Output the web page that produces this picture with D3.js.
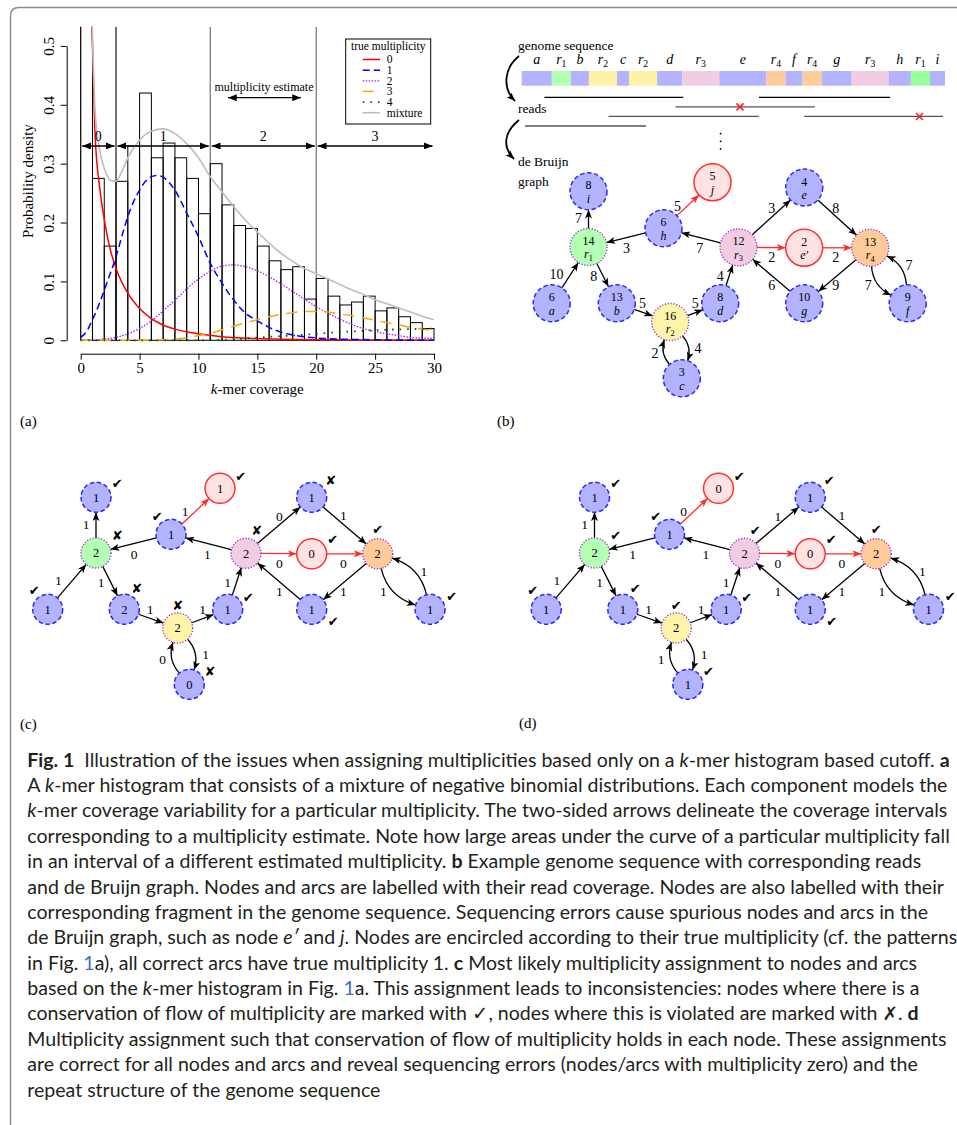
<!DOCTYPE html>
<html><head><meta charset="utf-8">
<script src="https://cdn.jsdelivr.net/npm/d3@7"></script>
<style>body{margin:0;background:#fff} svg{display:block}</style>
</head><body>
<svg id="fig" width="957" height="1125"></svg>
<script>
// ================= DATA =================
// (a) histogram
const binStarts = [0,1,2,3,4,5,6,7,8,9,10,11,12,13,14,15,16,17,18,19,20,21,22,23,24,25,26,27,28,29];
const binDensity = [0.9,0.275,0.16,0.27,0.33,0.42,0.31,0.335,0.31,0.275,0.215,0.30,0.23,0.195,0.19,0.16,0.135,0.12,0.125,0.07,0.105,0.075,0.06,0.065,0.075,0.05,0.055,0.04,0.03,0.02];
const xTicks = [0,5,10,15,20,25,30];
const yTicks = [0,0.1,0.2,0.3,0.4,0.5];
const legendLabels = ["0","1","2","3","4","mixture"];
const mult0X = [0.7,0.8,0.93,1,1.22,1.64,2,2.5,3,4,5,6,7,8,10,12,15,20,25,30];
const mult0Y = [0.66,0.6,0.54,0.5,0.35,0.255,0.205,0.155,0.122,0.08,0.054,0.037,0.026,0.019,0.011,0.006,0.003,0.001,0.0005,0];
const mult1X = [0,0.5,1,1.5,2,2.5,3,3.5,4,4.5,5,5.5,6,6.5,7,7.5,8,9,10,11,12,13,14,15,16,17,18,19,20,22,25,30];
const mult1Y = [0.005,0.015,0.035,0.058,0.085,0.113,0.142,0.177,0.21,0.236,0.255,0.27,0.278,0.28,0.277,0.268,0.255,0.216,0.176,0.131,0.097,0.068,0.046,0.033,0.022,0.014,0.009,0.006,0.004,0.002,0.001,0];
const mult2X = [0,2,3,4,5,6,7,8,9,10,11,12,13,14,15,16,17,18,19,20,21,22,23,24,25,26,27,28,29,30];
const mult2Y = [0,0.002,0.005,0.011,0.02,0.033,0.05,0.068,0.087,0.104,0.117,0.126,0.128,0.125,0.118,0.108,0.096,0.083,0.07,0.057,0.046,0.036,0.027,0.02,0.015,0.011,0.008,0.005,0.004,0.003];
const mult3X = [0,6,7,8,9,10,11,12,13,14,15,16,17,18,19,20,21,22,23,24,25,26,27,28,29,30];
const mult3Y = [0,0,0.001,0.002,0.004,0.008,0.012,0.018,0.024,0.03,0.035,0.04,0.044,0.047,0.049,0.049,0.048,0.045,0.042,0.038,0.034,0.03,0.026,0.022,0.019,0.016];
const mult4X = [0,10,12,14,16,18,20,22,24,26,28,30];
const mult4Y = [0,0,0.001,0.003,0.006,0.008,0.011,0.014,0.016,0.018,0.019,0.02];
const mixX = [0.97,1.1,1.22,1.64,2,2.5,3,3.5,4,5,6,7,8,9,10,11,12,13,14,15,16,17,18,19,20,21,22,23,24,25,26,27,28,29,30];
const mixY = [0.54,0.45,0.39,0.32,0.292,0.272,0.27,0.287,0.31,0.34,0.355,0.359,0.351,0.334,0.31,0.278,0.252,0.227,0.204,0.184,0.165,0.148,0.134,0.122,0.113,0.104,0.095,0.086,0.078,0.069,0.062,0.055,0.048,0.041,0.035];
const cutoffs = [0,3,11,20];
const estimateLabels = ["0","1","2","3"];
const estimateFrom = [0,3,11,20];
const estimateTo = [3,11,20,30];
const estimateLabelX = [1.5,7,15.5,25];

// (b) genome, reads
const segNames = ["a","r1","b","r2","c","r2","d","r3","e","r4","f","r4","g","r3","h","r1","i"];
const segLengths = [30,19,18,28,12,28,25,37,47,19,17,19,30,37,22,19,15];
const readStart = [22.6,236.6,153.3,86.6,281.6,3.3];
const readEnd = [161,367.3,292.3,236.3,420,124];
const readRow = [0,0,1,2,2,3];
const readError = [null,null,217.6,null,396.6,null];

// de Bruijn graph
const nodeIds = ["a","r1","b","r2","c","d","r3","e","r4","f","g","h","i","j","e'"];
const nodeTrueMult = [1,2,1,2,1,1,2,1,2,1,1,1,1,0,0];
const nodeCoverage = [6,14,13,16,3,8,12,4,13,9,10,6,8,5,2];
const nodeMultC = [1,2,2,2,0,1,2,1,2,1,1,1,1,1,0];
const nodeMultD = [1,2,1,2,1,1,2,1,2,1,1,1,1,0,0];
const nodeOkC = [true,false,false,false,false,true,false,false,true,true,true,true,true,true,true];
const nodeOkD = [true,true,true,true,true,true,true,true,true,true,true,true,true,true,true];
const edgeSource = ["a","r1","r1","h","r3","h","b","r2","d","r2","c","r3","e","r3","e'","g","r4","r4","f"];
const edgeTarget = ["r1","i","b","r1","h","j","r2","d","r3","c","r2","e","r4","e'","r4","r3","g","f","r4"];
const edgeCoverage = [10,7,8,3,7,5,5,5,4,4,2,3,8,2,2,6,9,7,7];
const edgeMultC = [1,1,1,0,1,1,1,1,1,1,0,0,1,0,0,1,1,1,1];
const edgeMultD = [1,1,1,1,1,0,1,1,1,1,1,1,1,0,0,1,1,1,1];

// ================= LAYOUT =================
const nodeLayout = {a:[47.7,609.3], r1:[96,553], b:[124.3,609.3], r2:[177.7,628], c:[189.3,684.3], d:[227.7,609.3],
  r3:[246,553.3], e:[311.7,497.3], r4:[377.7,553.8], f:[430,609.3], g:[311.7,609.3], h:[171,534.3],
  i:[96,497.3], j:[220,488.3], "e'":[311.7,553.8]};
const layoutOverrideB = {a:[59.2,609.3], f:[415.2,609.3], e:[311.7,493.5]};
const edgeBend = {"r2>c":30, "c>r2":30, "r4>f":-30, "f>r4":-30};
const edgeLabelOffset = {"a>r1":[-13.5,-1],"r1>i":[-10,-0.7],"r1>b":[-9,0.7],"h>r1":[0.5,10.5],"r3>h":[-1.2,10.5],
  "h>j":[-10.5,0.4],"b>r2":[-1,-9.5],"r2>d":[0,-9.5],"d>r3":[-9.2,0.7],"c>r2":[-21,3],"r2>c":[22,-2],
  "r3>e":[0.4,-9.3],"e>r4":[-1.4,-10],"r3>e'":[0.4,10],"e'>r4":[-1.4,9.5],"g>r3":[0.4,10],"r4>g":[-1.4,9.3],
  "r4>f":[-20.6,9.3],"f>r4":[20,-10]};
const markOffset = {i:[21.3,-14], j:[20.7,-11.6], h:[-13.7,-18.3], r1:[21.3,-18], r3:[10.7,-23], e:[19,-16.6],
  "e'":[21,-14], r4:[0,-24], a:[-13.4,-18.6], b:[12.4,-21], r2:[0,-22.7], d:[20.6,-12], g:[21.6,12.4],
  f:[21.7,-12.6], c:[20.7,-12.6]};

const SERIF = "'Liberation Serif','DejaVu Serif',serif";
const svg = d3.select("#fig");
svg.append("rect").attr("width",957).attr("height",1125).attr("fill","#fff");

// frame
svg.append("path").attr("d","M10.5,1125 L10.5,16 Q10.5,7.5 19,7.5 L957,7.5")
  .attr("fill","none").attr("stroke","#8a8a8a").attr("stroke-width",1.4);

// markers
const defs = svg.append("defs");
function marker(id, color, w, h){
  defs.append("marker").attr("id",id).attr("viewBox","0 0 10 8").attr("refX",10).attr("refY",4)
    .attr("markerUnits","userSpaceOnUse").attr("markerWidth",w).attr("markerHeight",h)
    .attr("orient","auto-start-reverse")
    .append("path").attr("d","M0,0 L10,4 L0,8 L2.5,4 Z").attr("fill",color);
}
marker("arrBlack","#000",9,7);
marker("arrRed","#ff2a2a",9,7);
defs.append("marker").attr("id","arrA").attr("viewBox","0 0 10 8").attr("refX",10).attr("refY",4)
  .attr("markerUnits","userSpaceOnUse").attr("markerWidth",9).attr("markerHeight",7)
  .attr("orient","auto-start-reverse")
  .append("path").attr("d","M0,0 L10,4 L0,8 Z").attr("fill","#000");

// ================= PANEL (a) =================
const x = d3.scaleLinear().domain([0,30]).range([80.7,434]);
const y = d3.scaleLinear().domain([0,0.5]).range([340.3,45.9]);
defs.append("clipPath").attr("id","plotClip").append("rect")
  .attr("x",66).attr("y",26.7).attr("width",380).attr("height",316);
const gA = svg.append("g");
const plot = gA.append("g").attr("clip-path","url(#plotClip)");

const seriesDefs = [
  {X:mult0X,Y:mult0Y,color:"#ff0000",dash:null,w:1.5},
  {X:mult1X,Y:mult1Y,color:"#0000ff",dash:"7,4",w:1.5},
  {X:mult2X,Y:mult2Y,color:"#a020f0",dash:"1.5,1.5",w:1.3},
  {X:mult3X,Y:mult3Y,color:"#ffa500",dash:"11,8",w:1.5},
  {X:mult4X,Y:mult4Y,color:"#006400",dash:"1.6,6",w:1.8},
  {X:mixX,Y:mixY,color:"#bebebe",dash:null,w:1.6}
];
const line = d3.line().x(d=>x(d[0])).y(d=>y(d[1])).curve(d3.curveMonotoneX);
plot.selectAll("line.cut").data(cutoffs).join("line")
  .attr("x1",d=>x(d)).attr("x2",d=>x(d)).attr("y1",26.7).attr("y2",y(0))
  .attr("stroke",d=>d===3?"#000":"#666").attr("stroke-width",1.1);
plot.selectAll("rect.bar").data(binStarts).join("rect")
  .attr("x",(d)=>x(d)).attr("width",(d)=>x(d+1)-x(d))
  .attr("y",(d,i)=>y(binDensity[i])).attr("height",(d,i)=>y(0)-y(binDensity[i]))
  .attr("fill","none").attr("stroke","#000").attr("stroke-width",1);
seriesDefs.forEach(s=>{
  plot.append("path").attr("d",line(s.X.map((v,i)=>[v,s.Y[i]])))
    .attr("fill","none").attr("stroke",s.color).attr("stroke-width",s.w)
    .attr("stroke-dasharray",s.dash);
});
const yAx = gA.append("g").attr("transform","translate(66.7,0)")
  .call(d3.axisLeft(y).tickValues(yTicks).tickSize(6).tickSizeOuter(0).tickFormat(d3.format(".1f")));
yAx.selectAll("text").attr("x",0).attr("y",0).attr("dy","0")
  .attr("transform","translate(-12.5,0) rotate(-90)").attr("text-anchor","middle")
  .text(d=>d===0?"0":d3.format(".1f")(d));
const xAx = gA.append("g").attr("transform","translate(0,353.7)")
  .call(d3.axisBottom(x).tickValues(xTicks).tickSize(6).tickSizeOuter(0));
[yAx,xAx].forEach(a=>{
  a.attr("font-family",SERIF).attr("font-size",15);
  a.selectAll("text").attr("fill","#000");
  a.selectAll("line,path").attr("stroke","#000");
});
gA.append("text").attr("x",257.3).attr("y",394).attr("text-anchor","middle")
  .attr("font-family",SERIF).attr("font-size",15)
  .html('<tspan font-style="italic">k</tspan>-mer coverage');
gA.append("text").attr("transform","translate(33,181) rotate(-90)").attr("text-anchor","middle")
  .attr("font-family",SERIF).attr("font-size",15).text("Probability density");
estimateLabels.forEach((lab,i)=>{
  gA.append("line").attr("x1",x(estimateFrom[i])+1.5).attr("x2",x(estimateTo[i])-1.5)
    .attr("y1",y(0.33)).attr("y2",y(0.33)).attr("stroke","#000").attr("stroke-width",1.3)
    .attr("marker-start","url(#arrA)").attr("marker-end","url(#arrA)");
  gA.append("text").attr("x",x(estimateLabelX[i])).attr("y",y(0.33)-4.5).attr("text-anchor","middle")
    .attr("font-family",SERIF).attr("font-size",14).text(lab);
});
gA.append("text").attr("x",264).attr("y",91).attr("text-anchor","middle")
  .attr("font-family",SERIF).attr("font-size",12).text("multiplicity estimate");
gA.append("line").attr("x1",228).attr("x2",301).attr("y1",97.7).attr("y2",97.7)
  .attr("stroke","#000").attr("stroke-width",1.3)
  .attr("marker-start","url(#arrA)").attr("marker-end","url(#arrA)");
const lg = gA.append("g");
lg.append("rect").attr("x",345.7).attr("y",39).attr("width",85).attr("height",85)
  .attr("fill","#fff").attr("stroke","#000").attr("stroke-width",1);
lg.append("text").attr("x",388.2).attr("y",49.8).attr("text-anchor","middle")
  .attr("font-family",SERIF).attr("font-size",11.5).text("true multiplicity");
const ly = d3.scaleLinear().domain([0,5]).range([59.5,112.7]);
legendLabels.forEach((lab,i)=>{
  const s = seriesDefs[i];
  lg.append("line").attr("x1",362.7).attr("x2",380).attr("y1",ly(i)).attr("y2",ly(i))
    .attr("stroke",s.color).attr("stroke-width",s.w).attr("stroke-dasharray",s.dash);
  lg.append("text").attr("x",386.7).attr("y",ly(i)+3.8)
    .attr("font-family",SERIF).attr("font-size",11.5).text(lab);
});
svg.append("text").attr("x",20).attr("y",426).attr("font-family",SERIF).attr("font-size",15).text("(a)");

// ================= PANEL (b) genome =================
const gx = d3.scaleLinear().domain([0,d3.sum(segLengths)]).range([521.7,945]);
const segColor = {a:"#b3b3ff",b:"#b3b3ff",c:"#b3b3ff",d:"#b3b3ff",e:"#b3b3ff",f:"#b3b3ff",g:"#b3b3ff",h:"#b3b3ff",i:"#b3b3ff",
  r1:"#b3ffb3",r2:"#fff2a6",r3:"#f0cde0",r4:"#ffcc99"};
const repColor = {r1:"#b3ffb3",r2:"#fff4aa",r3:"#f0cde0",r4:"#ffcc99"};
let acc = 0;
const segs = segNames.map((n,i)=>{const s={n,start:acc,end:acc+segLengths[i]}; acc+=segLengths[i]; return s;});
const gB = svg.append("g");
gB.selectAll("rect.seg").data(segs).join("rect")
  .attr("x",d=>gx(d.start)).attr("width",d=>gx(d.end)-gx(d.start))
  .attr("y",71).attr("height",14.7)
  .attr("fill",(d,i)=> (i===15 ? "#99ff99" : segColor[d.n]));
function labelNode(sel, name, size){
  const first = sel.append("tspan").attr("font-style","italic");
  if(name[0]==="r" && name.length>1){
    first.text("r");
    sel.append("tspan").attr("font-size",size*0.7).attr("dy",size*0.22).text(name.slice(1));
  } else if(name==="e'"){
    first.text("e′");
  } else {
    first.text(name);
  }
}
segs.forEach(s=>{
  const t = gB.append("text").attr("x",gx((s.start+s.end)/2)).attr("y",64).attr("text-anchor","middle")
    .attr("font-family",SERIF).attr("font-size",14);
  labelNode(t, s.n, 14);
});
const rowY = d3.scaleLinear().domain([0,3]).range([97.3,126]);
readStart.forEach((s,i)=>{
  const col = (readRow[i]===1||readRow[i]===2) ? "#555" : "#000";
  gB.append("line").attr("x1",gx(s)).attr("x2",gx(readEnd[i])).attr("y1",rowY(readRow[i])).attr("y2",rowY(readRow[i]))
    .attr("stroke",col).attr("stroke-width",1.2);
  if(readError[i]!==null){
    const cx=gx(readError[i]), cy=rowY(readRow[i]);
    gB.append("path").attr("d",`M${cx-3.5},${cy-3.5}L${cx+3.5},${cy+3.5}M${cx-3.5},${cy+3.5}L${cx+3.5},${cy-3.5}`)
      .attr("stroke","#ff2020").attr("stroke-width",1.5);
  }
});
[3.8,4.6,5.4].forEach(r=>gB.append("circle").attr("cx",gx(198.3)).attr("cy",rowY(r)).attr("r",0.9).attr("fill","#000"));
const labB = [["genome sequence",50],["reads",113.3],["de Bruijn",166],["graph",186]];
labB.forEach(l=>gB.append("text").attr("x",518).attr("y",l[1]).attr("font-family",SERIF).attr("font-size",13.5).text(l[0]));
gB.append("path").attr("d","M519,56 C504,68 502,88 515,101").attr("fill","none").attr("stroke","#000").attr("stroke-width",1.8)
  .attr("marker-end","url(#arrBlack)");
gB.append("path").attr("d","M519,120 C504,132 502,147 514,159").attr("fill","none").attr("stroke","#000").attr("stroke-width",1.8)
  .attr("marker-end","url(#arrBlack)");
svg.append("text").attr("x",497).attr("y",426).attr("font-family",SERIF).attr("font-size",15).text("(b)");

// ================= GRAPHS =================
function nodeFill(id, tm){
  if(tm===0) return "#ffe3e3";
  if(tm===2) return repColor[id];
  return "#b3b3ff";
}
function drawGraph(panel){
  const g = svg.append("g");
  const sx = d3.scaleLinear().domain([0,100]).range([panel.dx, panel.dx+100]);
  const sy = d3.scaleLinear().domain([0,100]).range([panel.dy, panel.dy+100]);
  const pos = {};
  nodeIds.forEach(id=>{
    const p = (panel.override && panel.override[id]) || nodeLayout[id];
    pos[id] = [sx(p[0]), sy(p[1])];
  });
  const R = panel.r;
  const tmOf = id=>nodeTrueMult[nodeIds.indexOf(id)];
  edgeSource.forEach((s,i)=>{
    const t = edgeTarget[i], key = s+">"+t;
    const u = pos[s], v = pos[t];
    const red = tmOf(s)===0 || tmOf(t)===0;
    const dx=v[0]-u[0], dy=v[1]-u[1], L=Math.hypot(dx,dy), tx=dx/L, ty=dy/L;
    const mid=[(u[0]+v[0])/2,(u[1]+v[1])/2];
    let d;
    if(edgeBend[key]){
      const b = edgeBend[key]*Math.PI/180;
      const h = Math.tan(Math.abs(b))*L/2*Math.sign(b);
      const nx=ty, ny=-tx;
      const c=[mid[0]+nx*h, mid[1]+ny*h];
      const su=Math.hypot(c[0]-u[0],c[1]-u[1]), sv=Math.hypot(c[0]-v[0],c[1]-v[1]);
      const st=[u[0]+(c[0]-u[0])/su*R, u[1]+(c[1]-u[1])/su*R];
      const en=[v[0]+(c[0]-v[0])/sv*R, v[1]+(c[1]-v[1])/sv*R];
      d=`M${st[0]},${st[1]} Q${c[0]},${c[1]} ${en[0]},${en[1]}`;
    } else {
      d=`M${u[0]+tx*R},${u[1]+ty*R} L${v[0]-tx*R},${v[1]-ty*R}`;
    }
    g.append("path").attr("d",d).attr("fill","none")
      .attr("stroke",red?"#ff2a2a":"#000").attr("stroke-width",1.3)
      .attr("marker-end",red?"url(#arrRed)":"url(#arrBlack)");
    const off = edgeLabelOffset[key];
    g.append("text").attr("x",mid[0]+off[0]).attr("y",mid[1]+off[1]).attr("dy","0.35em")
      .attr("text-anchor","middle").attr("font-family",SERIF).attr("font-size",panel.edgeFont)
      .text(panel.edgeVal[i]);
  });
  nodeIds.forEach((id,i)=>{
    const tm = nodeTrueMult[i], p = pos[id];
    const c = g.append("circle").attr("cx",p[0]).attr("cy",p[1]).attr("r",R).attr("fill",nodeFill(id,tm));
    if(tm===0) c.attr("stroke","#ff3030").attr("stroke-width",1.5);
    else if(tm===1) c.attr("stroke","#2a2aff").attr("stroke-width",1.5).attr("stroke-dasharray","4.5,2.6");
    else c.attr("stroke","#9b35c8").attr("stroke-width",1.4).attr("stroke-dasharray","1.2,1.7");
    if(panel.type==="b"){
      g.append("text").attr("x",p[0]).attr("y",p[1]-2).attr("text-anchor","middle")
        .attr("font-family",SERIF).attr("font-size",12).text(nodeCoverage[i]);
      const t = g.append("text").attr("x",p[0]).attr("y",p[1]+11.4).attr("text-anchor","middle")
        .attr("font-family",SERIF).attr("font-size",12);
      labelNode(t,id,12);
    } else {
      g.append("text").attr("x",p[0]).attr("y",p[1]).attr("dy","0.35em").attr("text-anchor","middle")
        .attr("font-family",SERIF).attr("font-size",12.5).text(panel.nodeVal[i]);
      const mo = markOffset[id];
      g.append("text").attr("x",p[0]+mo[0]).attr("y",p[1]+mo[1]).attr("dy","0.36em").attr("text-anchor","middle")
        .attr("font-family","'DejaVu Sans',sans-serif").attr("font-size",13)
        .text(panel.ok[i] ? "✔" : "✘");
    }
  });
}
drawGraph({type:"b", dx:492.5, dy:-306, r:18.5, override:layoutOverrideB, edgeVal:edgeCoverage, edgeFont:14});
drawGraph({type:"c", dx:0, dy:0, r:15, edgeVal:edgeMultC, nodeVal:nodeMultC, ok:nodeOkC, edgeFont:13.5});
drawGraph({type:"d", dx:498.5, dy:0, r:15, edgeVal:edgeMultD, nodeVal:nodeMultD, ok:nodeOkD, edgeFont:13.5});
svg.append("text").attr("x",20).attr("y",729).attr("font-family",SERIF).attr("font-size",15).text("(c)");
svg.append("text").attr("x",519).attr("y",728).attr("font-family",SERIF).attr("font-size",15).text("(d)");

// ================= CAPTION =================
const captionLines = [
 [["Fig. 1","b"],["  Illustration of the issues when assigning multiplicities based only on a ",""],["k","i"],["-mer histogram based cutoff. ",""],["a","b"]],
 [["A ",""],["k","i"],["-mer histogram that consists of a mixture of negative binomial distributions. Each component models the",""]],
 [["k","i"],["-mer coverage variability for a particular multiplicity. The two-sided arrows delineate the coverage intervals",""]],
 [["corresponding to a multiplicity estimate. Note how large areas under the curve of a particular multiplicity fall",""]],
 [["in an interval of a different estimated multiplicity. ",""],["b","b"],[" Example genome sequence with corresponding reads",""]],
 [["and de Bruijn graph. Nodes and arcs are labelled with their read coverage. Nodes are also labelled with their",""]],
 [["corresponding fragment in the genome sequence. Sequencing errors cause spurious nodes and arcs in the",""]],
 [["de Bruijn graph, such as node ",""],["e′","i"],[" and ",""],["j","i"],[". Nodes are encircled according to their true multiplicity (cf. the patterns",""]],
 [["in Fig. ",""],["1","l"],["a), all correct arcs have true multiplicity 1. ",""],["c","b"],[" Most likely multiplicity assignment to nodes and arcs",""]],
 [["based on the ",""],["k","i"],["-mer histogram in Fig. ",""],["1","l"],["a. This assignment leads to inconsistencies: nodes where there is a",""]],
 [["conservation of flow of multiplicity are marked with ",""],["✓","s"],[", nodes where this is violated are marked with ",""],["✗","sb"],[". ",""],["d","b"]],
 [["Multiplicity assignment such that conservation of flow of multiplicity holds in each node. These assignments",""]],
 [["are correct for all nodes and arcs and reveal sequencing errors (nodes/arcs with multiplicity zero) and the",""]],
 [["repeat structure of the genome sequence",""]]
];
const capG = svg.append("g").attr("font-family","Lato,'DejaVu Sans',sans-serif").attr("fill","#231f20");
const capY = d3.scaleLinear().domain([0,13]).range([766.6,1096.6]);
const capTexts = captionLines.map((ln,i)=>{
  const t = capG.append("text").attr("x",27.3).attr("y",capY(i)).style("white-space","pre").attr("font-size",18);
  ln.forEach(([txt,st])=>{
    const ts = t.append("tspan").text(txt);
    if(st==="b") ts.attr("font-weight","bold");
    if(st==="i") ts.attr("font-style","italic");
    if(st==="l") ts.attr("fill","#3d6fc4");
    if(st==="s") ts.attr("font-family","'DejaVu Sans',sans-serif").attr("font-weight","bold").attr("font-size","1em");
    if(st==="sb") ts.attr("font-family","'DejaVu Sans',sans-serif").attr("font-weight","bold").attr("font-size","0.95em");
  });
  return t;
});
const w2 = capTexts[1].node().getComputedTextLength();
const fs = 18*921/w2;
capTexts.forEach(t=>t.attr("font-size",fs));
</script>
</body></html>
